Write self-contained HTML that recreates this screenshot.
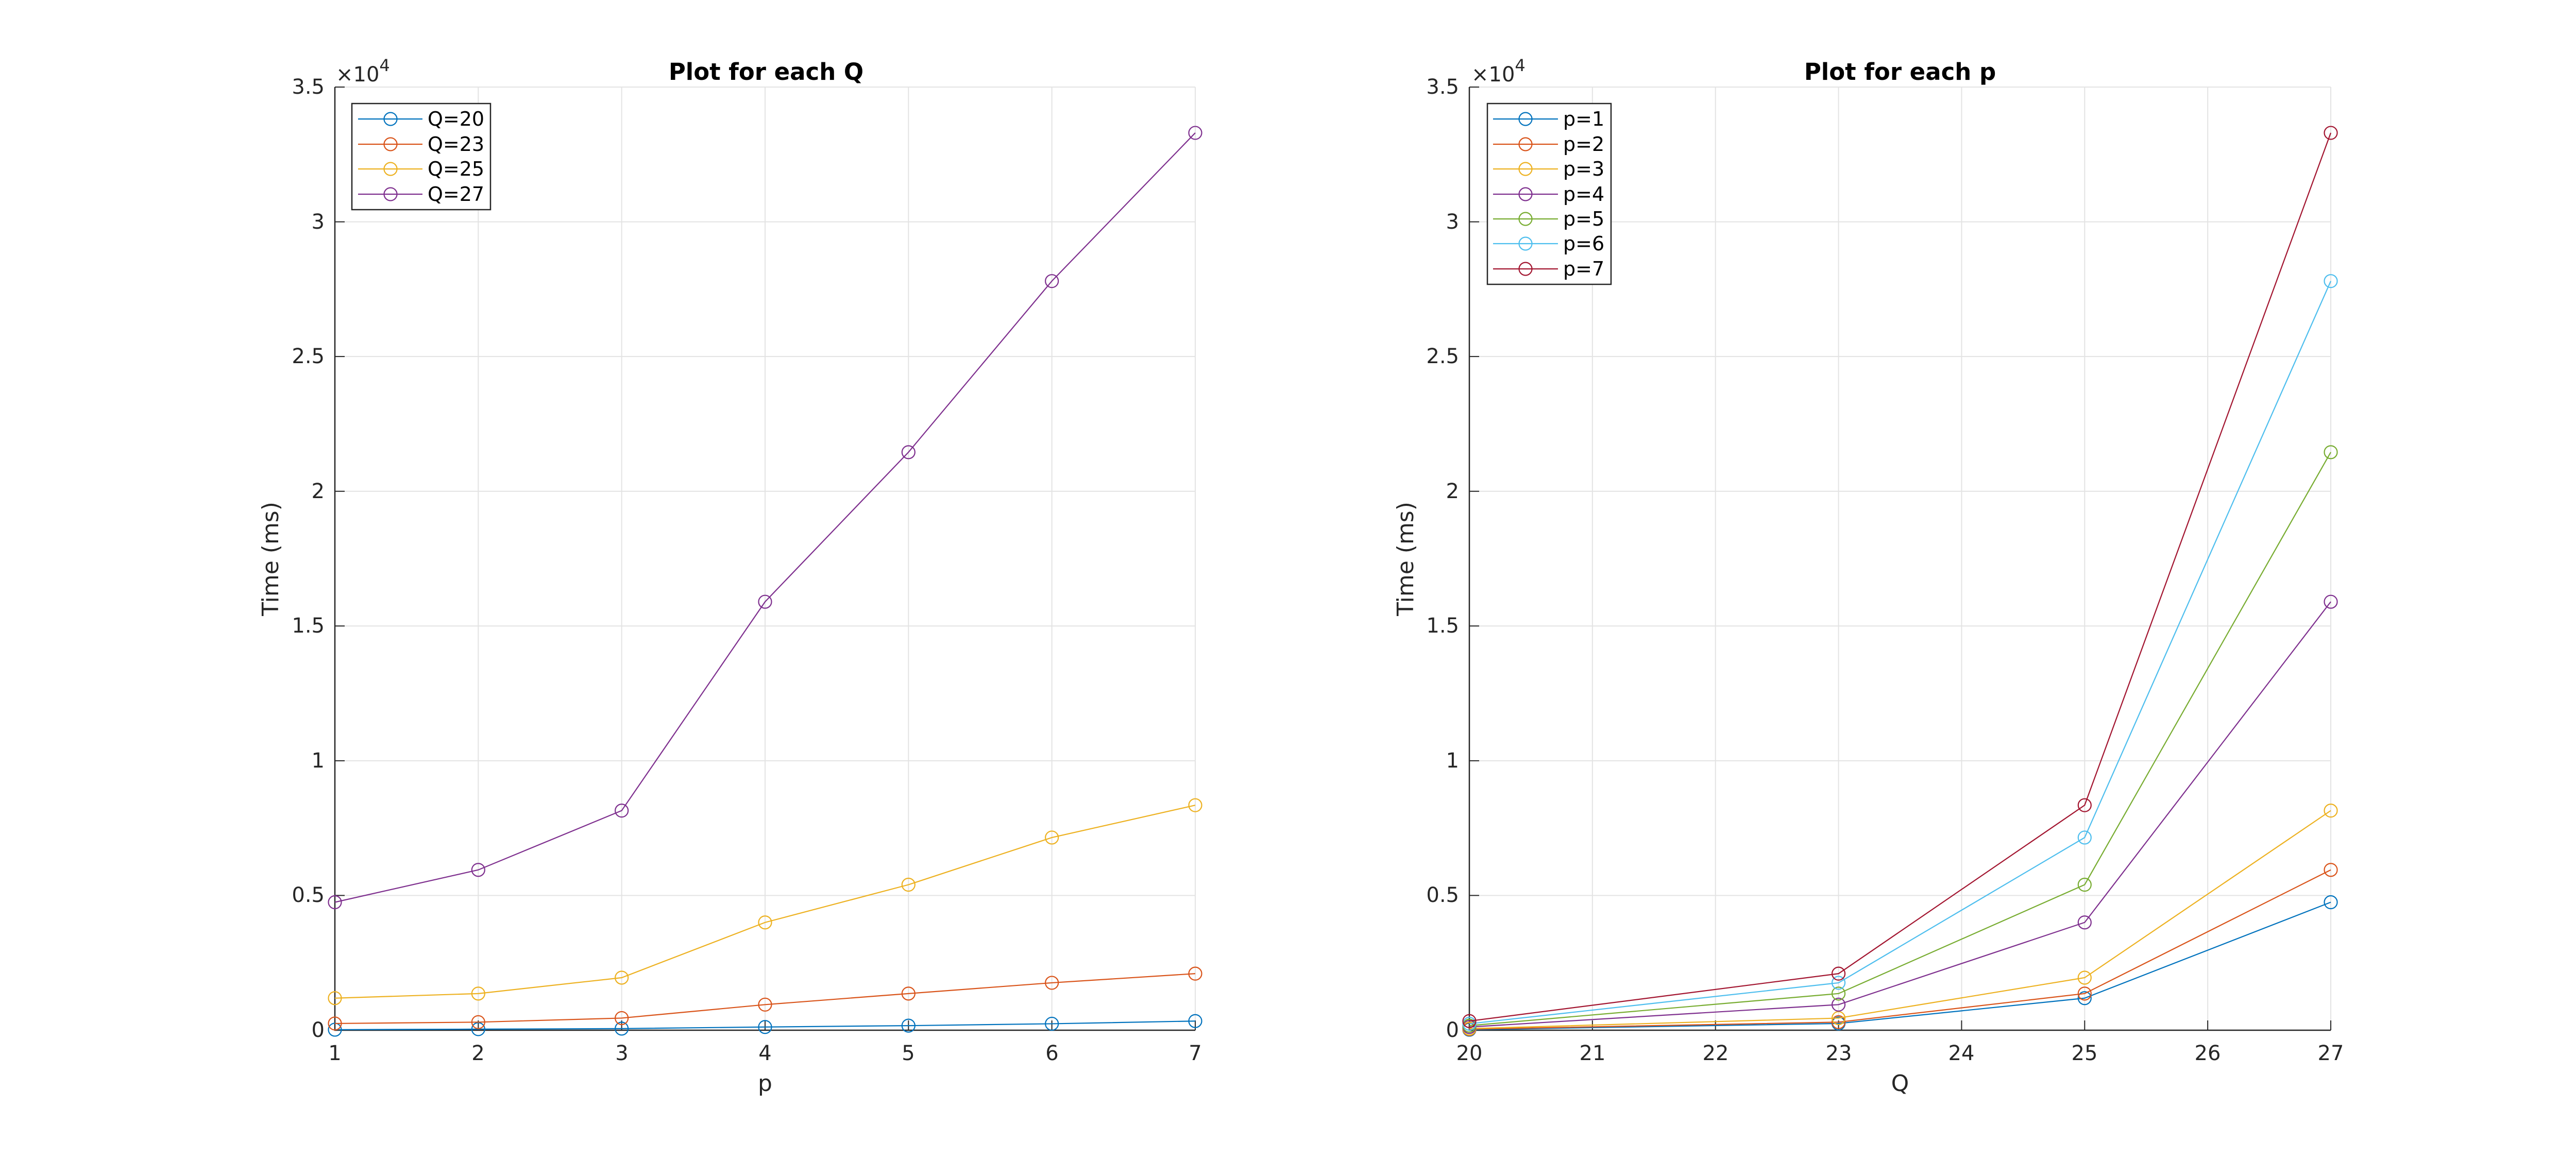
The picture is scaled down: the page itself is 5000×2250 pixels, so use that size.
<!DOCTYPE html>
<html><head><meta charset="utf-8"><style>
html,body{margin:0;padding:0;background:#fff;}
svg{display:block;}
text{font-family:"DejaVu Sans","Liberation Sans",sans-serif;fill:#262626;}
</style></head><body>
<svg id="s" width="5000" height="2250" viewBox="0 0 5000 2250" xmlns="http://www.w3.org/2000/svg">
<rect width="5000" height="2250" fill="#fff"/>
<g id="grid"></g>
<g id="axes"></g>
<g id="data"></g>
<text x="1487" y="155" font-size="45" font-weight="bold" text-anchor="middle" style="fill:#000">Plot for each Q</text>
<text x="3688" y="155" font-size="45" font-weight="bold" text-anchor="middle" style="fill:#000">Plot for each p</text>
<g font-size="40" text-anchor="end" dominant-baseline="central">
<text x="630" y="2000">0</text><text x="630" y="1738">0.5</text><text x="630" y="1477">1</text><text x="630" y="1215">1.5</text><text x="630" y="954">2</text><text x="630" y="692">2.5</text><text x="630" y="431">3</text><text x="630" y="169">3.5</text>
<text x="2832" y="2000">0</text><text x="2832" y="1738">0.5</text><text x="2832" y="1477">1</text><text x="2832" y="1215">1.5</text><text x="2832" y="954">2</text><text x="2832" y="692">2.5</text><text x="2832" y="431">3</text><text x="2832" y="169">3.5</text>
</g>
<g font-size="40" text-anchor="middle">
<text x="650" y="2058">1</text><text x="928" y="2058">2</text><text x="1207" y="2058">3</text><text x="1485" y="2058">4</text><text x="1763" y="2058">5</text><text x="2042" y="2058">6</text><text x="2320" y="2058">7</text>
<text x="2852" y="2058">20</text><text x="3091" y="2058">21</text><text x="3330" y="2058">22</text><text x="3569" y="2058">23</text><text x="3807" y="2058">24</text><text x="4046" y="2058">25</text><text x="4285" y="2058">26</text><text x="4524" y="2058">27</text>
<text x="1485" y="2118" font-size="44">p</text>
<text x="3688" y="2118" font-size="44">Q</text>
</g>
<text transform="translate(540,1085) rotate(-90)" font-size="44" text-anchor="middle">Time (ms)</text>
<text transform="translate(2743,1085) rotate(-90)" font-size="44" text-anchor="middle">Time (ms)</text>
<text x="652" y="158" font-size="40">×10<tspan dy="-20" font-size="32">4</tspan></text>
<text x="2856" y="158" font-size="40">×10<tspan dy="-20" font-size="32">4</tspan></text>
<rect x="683" y="201" width="269" height="206" fill="#fff" stroke="#262626" stroke-width="2.5"/>
<rect x="2887" y="201" width="240" height="351" fill="#fff" stroke="#262626" stroke-width="2.5"/>
<g id="leg"></g>
<g font-size="38" dominant-baseline="central" style="fill:#000">
<text x="830" y="231" style="fill:#000">Q=20</text><text x="830" y="280" style="fill:#000">Q=23</text><text x="830" y="328" style="fill:#000">Q=25</text><text x="830" y="377" style="fill:#000">Q=27</text>
<text x="3034" y="231" style="fill:#000">p=1</text><text x="3034" y="280" style="fill:#000">p=2</text><text x="3034" y="328" style="fill:#000">p=3</text><text x="3034" y="377" style="fill:#000">p=4</text><text x="3034" y="425" style="fill:#000">p=5</text><text x="3034" y="473" style="fill:#000">p=6</text><text x="3034" y="522" style="fill:#000">p=7</text>
</g>
</svg>
<script>
var NS="http://www.w3.org/2000/svg";
function el(p,t,a){var e=document.createElementNS(NS,t);for(var k in a)e.setAttribute(k,a[k]);document.getElementById(p).appendChild(e);return e;}
var C=["#0072BD","#D95319","#EDB120","#7E2F8E","#77AC30","#4DBEEE","#A2142F"];
function Y(v){return 2000-v/35000*1831;}
var yt=[];for(var k=0;k<8;k++)yt.push(2000-k*261.57);
var lx=[],rx=[];for(var i=0;i<7;i++)lx.push(650+i*278.33);for(var i=0;i<8;i++)rx.push(2852+i*238.86);
function axes(x0,x1,xs){
 yt.forEach(function(y){el("grid","line",{x1:x0,x2:x1,y1:y,y2:y,stroke:"#e3e3e3","stroke-width":2});
  el("axes","line",{x1:x0,x2:x0+19,y1:y,y2:y,stroke:"#262626","stroke-width":2});});
 xs.forEach(function(x){el("grid","line",{x1:x,x2:x,y1:169,y2:2000,stroke:"#e3e3e3","stroke-width":2});
  el("axes","line",{x1:x,x2:x,y1:2000,y2:1981,stroke:"#262626","stroke-width":2});});
 el("axes","line",{x1:x0,x2:x0,y1:169,y2:2001,stroke:"#262626","stroke-width":2.5});
 el("axes","line",{x1:x0-1,x2:x1,y1:2000,y2:2000,stroke:"#262626","stroke-width":2.5});
}
axes(650,2320,lx);axes(2852,4524,rx);
var D=[[20,40,60,120,170,240,340],[250,300,450,950,1360,1760,2100],[1190,1360,1950,4000,5400,7150,8350],[4750,5950,8150,15900,21450,27800,33300]];
function series(xs,vals,c){
 var pts=xs.map(function(x,i){return x+","+Y(vals[i]);}).join(" ");
 el("data","polyline",{points:pts,fill:"none",stroke:c,"stroke-width":2.2});
 xs.forEach(function(x,i){el("data","circle",{cx:x,cy:Y(vals[i]),r:12.5,fill:"none",stroke:c,"stroke-width":2.2});});
}
var lc=[C[0],C[1],C[2],C[3]];
D.forEach(function(r,j){series(lx,r,lc[j]);});
var qx=[rx[0],rx[3],rx[5],rx[7]];
for(var p=0;p<7;p++){series(qx,[D[0][p],D[1][p],D[2][p],D[3][p]],C[p]);}
var ly=[231,280,328,377,425,473,522];
for(var j=0;j<4;j++){el("leg","line",{x1:695,x2:820,y1:ly[j],y2:ly[j],stroke:lc[j],"stroke-width":2.2});el("leg","circle",{cx:758,cy:ly[j],r:12.5,fill:"none",stroke:lc[j],"stroke-width":2.2});}
for(var j=0;j<7;j++){el("leg","line",{x1:2898,x2:3024,y1:ly[j],y2:ly[j],stroke:C[j],"stroke-width":2.2});el("leg","circle",{cx:2961,cy:ly[j],r:12.5,fill:"none",stroke:C[j],"stroke-width":2.2});}
</script>
</body></html>
